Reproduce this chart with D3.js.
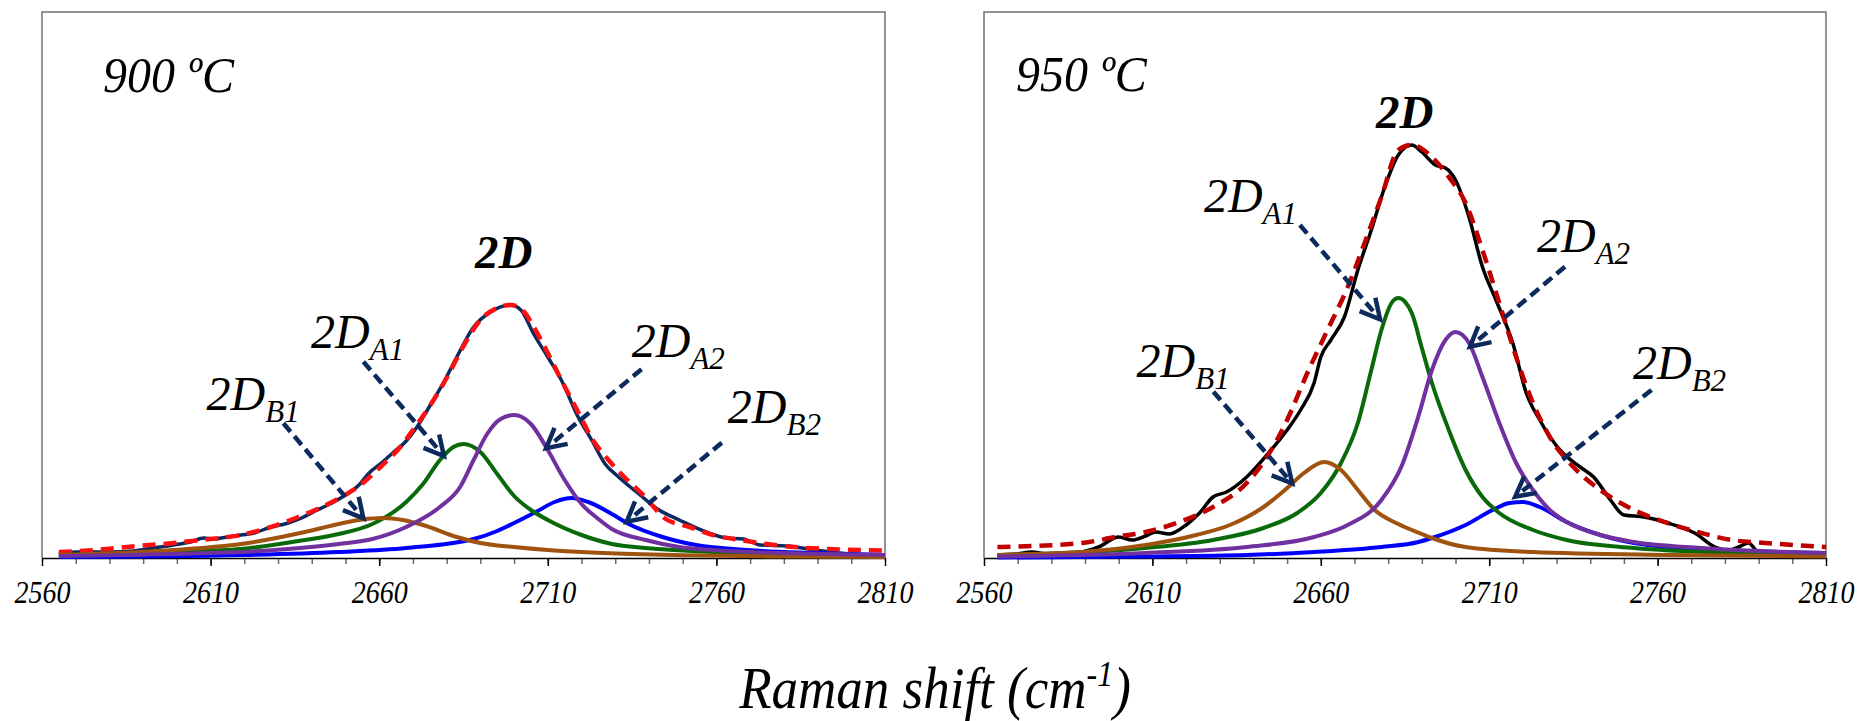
<!DOCTYPE html>
<html>
<head>
<meta charset="utf-8">
<script src="https://cdn.jsdelivr.net/npm/d3@7"></script>
<style>
  body { margin: 0; background: #fff; }
  text { font-family: "Liberation Serif", "Times New Roman", serif; font-style: italic; }
</style>
</head>
<body>
<div id="chart"></div>
<script>
const width = 1866,
  height = 721;

// x axis
const xDomain = [2560, 2810];
const majorTicks = [2560, 2610, 2660, 2710, 2760, 2810];
const minorTicks = d3.range(2570, 2810, 10);

// 900 C panel (intensity in a.u.)
const left_spectrum = [[2565,4],[2570,6],[2580,6],[2587,7],[2593,10],[2599,13],[2604,16],[2608,20],[2611,19],[2615,21],[2619,23],[2623,25],[2627,30],[2633,35],[2637,40],[2641,47],[2646,55],[2650,63],[2654,73],[2657,85],[2661,96],[2664,105],[2668,117],[2671,130],[2675,152],[2679,175],[2683,201],[2688,231],[2693,246],[2699,253],[2702,248],[2706,223],[2710,201],[2714,178],[2719,141],[2723,118],[2727,94],[2731,81],[2737,64],[2743,48],[2749,38],[2757,26],[2763,20],[2768,19],[2773,13],[2781,12],[2789,8],[2799,4],[2810,2]];
const left_fit = [[2565,6],[2576,8],[2588,12],[2599,15],[2607,18],[2619,23],[2627,30],[2636,41],[2646,56],[2654,72],[2661,93],[2666,110],[2670,128],[2675,152],[2680,180],[2685,212],[2690,238],[2695,250],[2699,253],[2703,246],[2706,230],[2710,205],[2714,178],[2719,146],[2723,120],[2728,98],[2733,80],[2738,64],[2745,39],[2752,31],[2759,23],[2767,18],[2775,14],[2783,11],[2793,9],[2810,7.5]];
const left_B1 = [[2565,3],[2599,8],[2619,14],[2638,26],[2648,34],[2655,38.5],[2661,40],[2667,38],[2673,33],[2683,21],[2690,15],[2700,11],[2710,8],[2720,6],[2735,4],[2750,2.7],[2780,1.5],[2810,1]];
const left_A1 = [[2565,3],[2599,6],[2619,9],[2638,18],[2648,24],[2658,34],[2668,56],[2673,74],[2678,98],[2682,111],[2685,114],[2690,106],[2695,84],[2700,62],[2705,48],[2710,38],[2720,23],[2729,14],[2739,10],[2759,6],[2789,4],[2810,2.5]];
const left_A2 = [[2565,2],[2599,4],[2629,8],[2648,14],[2658,19],[2668,31],[2678,51],[2684,71],[2688,98],[2692,124],[2696,139],[2700,143],[2705,134],[2710,108],[2715,78],[2720,54],[2725,39],[2729,29],[2739,18],[2749,11],[2759,8],[2779,5],[2810,3]];
const left_B2 = [[2565,1],[2619,3],[2648,6],[2668,10],[2688,19],[2695,27],[2700,35],[2707,47],[2712,56],[2717,60],[2722,56],[2729,44],[2734,34],[2744,21],[2754,13],[2769,8],[2789,5],[2810,3]];

// 950 C panel
const right_spectrum = [[2564,3],[2570,4],[2574,6],[2579,4],[2589,6],[2594,11],[2600,21],[2604,18],[2608,22],[2611,26],[2615,24],[2620,33],[2624,45],[2628,61],[2632,66],[2638,81],[2644,103],[2650,128],[2654,148],[2658,175],[2660,201],[2663,218],[2667,241],[2671,288],[2675,328],[2679,371],[2683,403],[2687,413],[2690,406],[2694,393],[2697,390],[2700,378],[2704,341],[2708,291],[2712,258],[2717,215],[2721,165],[2725,138],[2731,108],[2737,91],[2741,81],[2746,58],[2750,43],[2756,41],[2763,35],[2771,25],[2777,11],[2781,8],[2784,11],[2787,15],[2790,6],[2797,5],[2810,4]];
const right_fit = [[2564,11],[2589,15],[2599,21],[2608,26],[2618,36],[2628,51],[2638,75],[2644,101],[2650,138],[2656,185],[2662,228],[2668,271],[2673,315],[2678,361],[2683,408],[2687,413],[2693,401],[2698,381],[2703,355],[2708,308],[2713,255],[2718,201],[2723,155],[2728,121],[2735,91],[2743,68],[2753,48],[2763,35],[2773,25],[2782,18],[2792,15],[2810,11]];
const right_B1 = [[2564,3],[2589,6],[2608,13],[2623,23],[2633,33],[2643,51],[2650,70],[2655,85],[2661,96],[2666,88],[2671,68],[2676,48],[2683,34],[2690,24],[2693,20],[2703,11],[2723,6],[2763,3],[2810,1.5]];
const right_A1 = [[2564,3],[2608,10],[2628,18],[2643,30],[2653,45],[2660,65],[2666,95],[2671,135],[2675,188],[2678,228],[2681,255],[2683,260],[2687,245],[2690,210],[2693,175],[2698,128],[2703,88],[2708,61],[2713,45],[2723,28],[2733,18],[2753,10],[2782,5],[2810,3]];
const right_A2 = [[2564,1.5],[2608,5],[2638,11],[2658,21],[2668,33],[2678,58],[2684,92],[2689,142],[2693,188],[2697,218],[2700,226],[2704,215],[2708,181],[2713,135],[2718,95],[2723,68],[2728,48],[2733,36],[2743,23],[2753,16],[2773,10],[2810,5]];
const right_B2 = [[2564,0.5],[2608,1.5],[2638,3],[2658,6],[2678,11],[2689,16],[2693,20],[2703,33],[2711,48],[2716,55],[2720,56],[2725,51],[2733,36],[2743,23],[2753,15],[2773,9],[2810,5]];

// annotations: [label, subscript, x, y (baseline), arrow start x, y, arrow tip x, y]
const left_labels = [
  ["2D", "B1", 2608.8, 148, 2631.6, 134.7, 2655.3, 39.7],
  ["2D", "A1", 2639.8, 210, 2655.3, 196.3, 2679.2, 102],
  ["2D", "A2", 2734.9, 200.7, 2737.8, 188.7, 2709.5, 109.7],
  ["2D", "B2", 2763.4, 135.3, 2761.6, 115.3, 2733.4, 36.3]
];
const right_labels = [
  ["2D", "B1", 2605.3, 181.3, 2628.1, 166.3, 2651.5, 74.7],
  ["2D", "A1", 2625.3, 346.3, 2653.8, 333, 2677.6, 238.7],
  ["2D", "A2", 2724.2, 306.3, 2732.5, 291.3, 2704.3, 211.3],
  ["2D", "B2", 2752.7, 179, 2758.2, 168, 2717.7, 61.3]
];

const panels = [
  { title: "900 ºC", titlePos: [2578.1, 466], peakPos: [2688.4, 290], x0: 42, x1: 885,
    spectrum: left_spectrum, fit: left_fit, specColor: "#0b2a5e", fitColor: "#ff1010",
    comps: [left_B2, left_A1, left_B1, left_A2], labels: left_labels },
  { title: "950 ºC", titlePos: [2569.5, 467], peakPos: [2676.4, 430], x0: 984, x1: 1826,
    spectrum: right_spectrum, fit: right_fit, specColor: "#000000", fitColor: "#c00000",
    comps: [right_B2, right_A1, right_B1, right_A2], labels: right_labels }
];

const compColors = ["#0000ff", "#0a6a0a", "#a0520f", "#7030a0"];
const arrowColor = "#0c2a5e";
const serif = "'Liberation Serif', 'Times New Roman', serif";

const svg = d3.select("#chart").append("svg")
  .attr("width", width)
  .attr("height", height);

const yScale = d3.scaleLinear().domain([0, 546]).range([558, 12]);

panels.forEach(p => {
  const xScale = d3.scaleLinear().domain(xDomain).range([p.x0, p.x1]);
  const g = svg.append("g");

  // frame
  g.append("path")
    .attr("d", `M${p.x0},${yScale(0)}V${yScale(546)}H${p.x1}V${yScale(0)}`)
    .attr("fill", "none")
    .attr("stroke", "#707070")
    .attr("stroke-width", 1.5);

  // minor ticks
  g.append("g")
    .attr("transform", `translate(0,${yScale(0)})`)
    .call(d3.axisBottom(xScale).tickValues(minorTicks).tickSize(6).tickSizeOuter(0).tickFormat(""))
    .call(a => a.select(".domain").remove())
    .call(a => a.selectAll("line").attr("stroke", "#6a6a6a").attr("stroke-width", 1.5));

  // major ticks + labels (labels a bit taller than wide, as in the original)
  g.append("g")
    .attr("transform", `translate(0,${yScale(0)})`)
    .call(d3.axisBottom(xScale).tickValues(majorTicks).tickSize(8).tickSizeOuter(0).tickPadding(11).tickFormat(d3.format("d")))
    .call(a => a.select(".domain").attr("stroke", "#000").attr("stroke-width", 1.5))
    .call(a => a.selectAll("line").attr("stroke", "#000").attr("stroke-width", 1.5))
    .call(a => a.selectAll("text")
      .attr("fill", "#000")
      .attr("transform", "scale(1,1.15)")
      .style("font-family", serif)
      .style("font-style", "italic")
      .style("font-size", "28px"));

  const line = d3.line()
    .x(d => xScale(d[0]))
    .y(d => yScale(d[1]))
    .curve(d3.curveMonotoneX);

  g.append("path")
    .attr("d", line(p.spectrum))
    .attr("fill", "none")
    .attr("stroke", p.specColor)
    .attr("stroke-width", 3.5)
    .attr("stroke-linejoin", "round");

  g.append("path")
    .attr("d", line(p.fit))
    .attr("fill", "none")
    .attr("stroke", p.fitColor)
    .attr("stroke-width", 4.5)
    .attr("stroke-dasharray", "13,8");

  g.selectAll(".comp")
    .data(p.comps)
    .join("path")
    .attr("class", "comp")
    .attr("d", d => line(d))
    .attr("fill", "none")
    .attr("stroke", (d, i) => compColors[i])
    .attr("stroke-width", 4);

  // panel title and peak name
  g.append("text")
    .attr("transform", `translate(${xScale(p.titlePos[0])},${yScale(p.titlePos[1])}) scale(1,1.06)`)
    .style("font-size", "48px")
    .text(p.title);

  g.append("text")
    .attr("x", xScale(p.peakPos[0]))
    .attr("y", yScale(p.peakPos[1]))
    .style("font-size", "47px")
    .style("font-weight", "bold")
    .text("2D");

  // labels with dashed arrows
  p.labels.forEach(l => {
    const t = g.append("text")
      .attr("x", xScale(l[2]))
      .attr("y", yScale(l[3]))
      .style("font-size", "48px");
    t.append("tspan").text(l[0]);
    t.append("tspan").attr("dy", 12).style("font-size", "31px").text(l[1]);

    const sx = xScale(l[4]), sy = yScale(l[5]),
      ex = xScale(l[6]), ey = yScale(l[7]);
    const ang = Math.atan2(sy - ey, sx - ex);
    const len = 22, spread = 28 * Math.PI / 180;

    g.append("line")
      .attr("x1", sx).attr("y1", sy)
      .attr("x2", ex + 3 * Math.cos(ang)).attr("y2", ey + 3 * Math.sin(ang))
      .attr("stroke", arrowColor)
      .attr("stroke-width", 4.5)
      .attr("stroke-dasharray", "11,6");

    g.append("path")
      .attr("d", `M${ex + len * Math.cos(ang - spread)},${ey + len * Math.sin(ang - spread)}L${ex},${ey}L${ex + len * Math.cos(ang + spread)},${ey + len * Math.sin(ang + spread)}`)
      .attr("fill", "none")
      .attr("stroke", arrowColor)
      .attr("stroke-width", 4.5)
      .attr("stroke-linejoin", "miter");
  });
});

// shared x axis title
const title = svg.append("text")
  .attr("transform", "translate(935,708) scale(1,1.1)")
  .attr("text-anchor", "middle")
  .style("font-size", "53px");
title.append("tspan").text("Raman shift (cm");
title.append("tspan").attr("dy", -20).style("font-size", "32px").text("-1");
title.append("tspan").attr("dy", 20).text(")");
</script>
</body>
</html>
